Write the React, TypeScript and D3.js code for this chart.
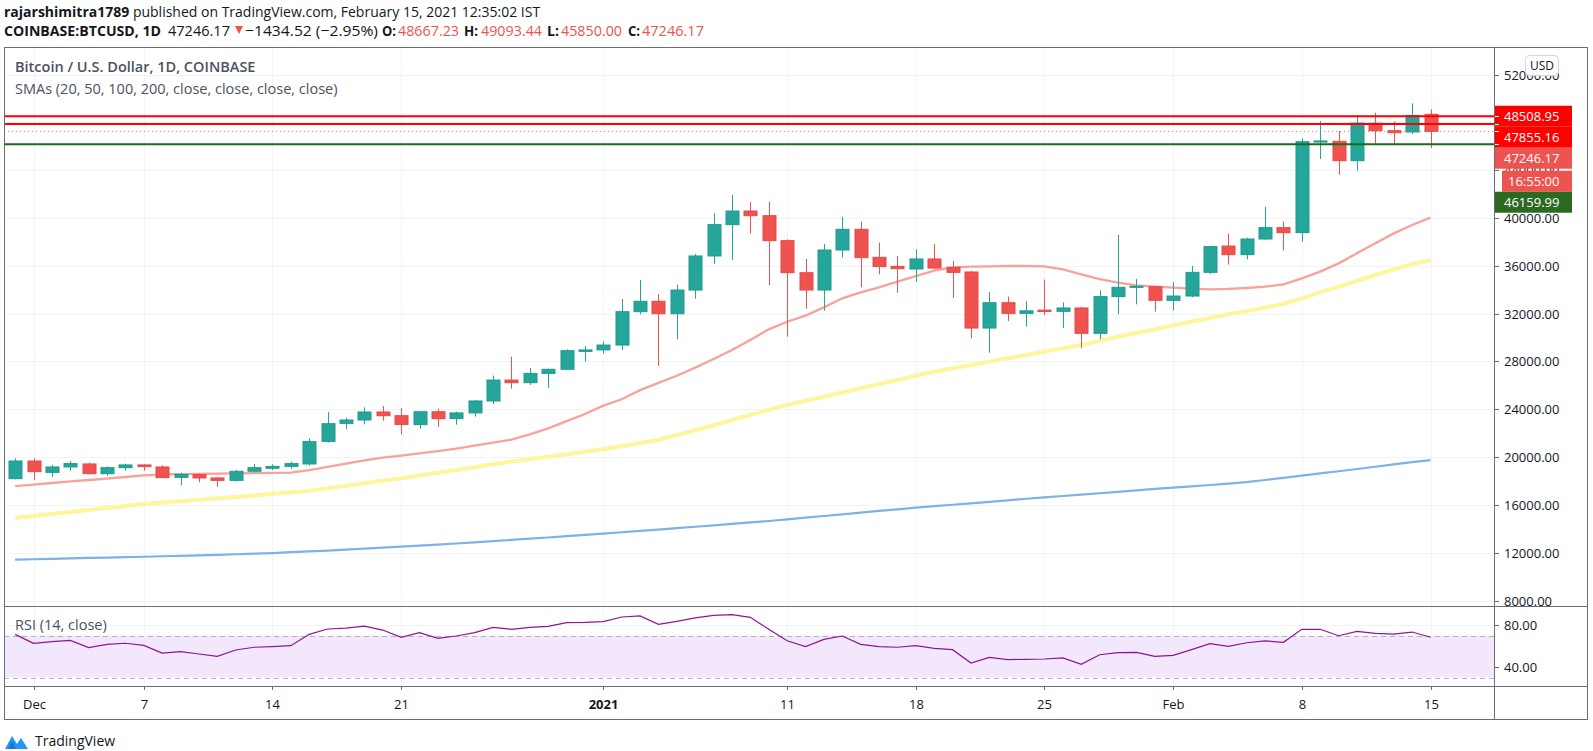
import React from 'react';
import * as d3 from 'd3';

const W = 1593;
const H = 751;

// ---------- data ----------
const firstDay = new Date(Date.UTC(2020, 10, 30));
const dates: Date[] = d3.utcDay.range(firstDay, new Date(Date.UTC(2021, 1, 16)));

const opens = [
  18190, 19670, 18720, 19170, 19420, 18610, 19110, 19340, 19170, 18300,
  18530, 18250, 18050, 18810, 19060, 19220, 19420, 21310, 22820, 23100,
  23770, 23460, 22710, 23790, 23210, 23690, 24690, 26440, 26220, 27000,
  27340, 28840, 28960, 29370, 32160, 33030, 31990, 33970, 36820, 39440,
  40580, 40190, 38100, 35420, 33970, 37320, 39050, 36710, 35950, 35730,
  36570, 35870, 35480, 30790, 32910, 32020, 32290, 32190, 32470, 30350,
  33420, 34200, 34250, 33110, 33470, 35450, 37650, 36930, 38240, 39190,
  38770, 46350, 46410, 44790, 47920, 47300, 47190, 48667.23,
];
const highs = [
  19890, 19890, 19340, 19670, 19530, 19220, 19450, 19420, 19310, 18690,
  18610, 18330, 18920, 19420, 19390, 19610, 21570, 23760, 23290, 24160,
  24270, 24100, 23800, 24050, 23800, 24770, 26810, 28400, 27450, 27390,
  29010, 29290, 29680, 33220, 34810, 33640, 34420, 36980, 40390, 41920,
  41330, 41360, 38210, 36570, 37820, 40080, 39690, 37930, 36820, 37380,
  37820, 36400, 35590, 33810, 33420, 33040, 34840, 32940, 32580, 33950,
  38600, 34890, 34310, 34640, 35980, 37680, 38690, 38350, 40920, 39690,
  46660, 48110, 47270, 48610, 48810, 48080, 49590, 49093.44,
];
const lows = [
  18140, 18080, 18330, 18860, 18530, 18440, 18860, 18860, 18220, 17630,
  17890, 17520, 17940, 18720, 18920, 19030, 19280, 21220, 22320, 22740,
  23040, 21900, 22370, 22540, 22710, 23380, 24440, 25720, 26030, 25780,
  27280, 27980, 28650, 28960, 31940, 27620, 29850, 33250, 36150, 36480,
  38710, 34360, 30070, 32410, 32250, 36680, 34200, 35280, 33750, 34670,
  35700, 33300, 29930, 28730, 31380, 30910, 31870, 30800, 29090, 29850,
  31940, 32770, 32160, 32270, 33360, 35310, 36090, 36540, 38160, 37290,
  37990, 44930, 43620, 43960, 46210, 46210, 47020, 45850,
];
const closes = [
  19670, 18780, 19170, 19450, 18610, 19110, 19340, 19200, 18280, 18550,
  18250, 18050, 18810, 19110, 19220, 19450, 21290, 22790, 23100, 23770,
  23460, 22730, 23790, 23210, 23690, 24690, 26440, 26220, 27000, 27340,
  28900, 28960, 29370, 32160, 33030, 31990, 33970, 36820, 39440, 40580,
  40190, 38100, 35420, 33970, 37320, 39050, 36680, 35930, 35760, 36570,
  35810, 35450, 30790, 32910, 32020, 32230, 32170, 32470, 30350, 33420,
  34200, 34280, 33110, 33470, 35450, 37600, 36930, 38240, 39190, 38770,
  46380, 46440, 44790, 47940, 47300, 47130, 48580, 47246.17,
];

const sma20 = [
  17570, 17700, 17830, 17960, 18080, 18200, 18330, 18470, 18540, 18570,
  18600, 18620, 18640, 18660, 18680, 18700, 18900, 19170, 19450, 19720,
  19950, 20110, 20300, 20500, 20700, 20950, 21200, 21450, 21900, 22400,
  23000, 23600, 24300, 24830, 25600, 26200, 26800, 27480, 28200, 28950,
  29800, 30680, 31320, 31830, 32520, 33280, 33780, 34200, 34670, 35140,
  35590, 35870, 35930, 35950, 35980, 35980, 35950, 35700, 35280, 34890,
  34590, 34360, 34250, 34170, 34090, 34030, 34060, 34140, 34250, 34450,
  34950, 35510, 36200, 37040, 37880, 38710, 39410, 40030,
];
const sma50 = [
  14900, 15070, 15230, 15400, 15570, 15740, 15900, 16070, 16190, 16310,
  16420, 16540, 16660, 16790, 16920, 17040, 17170, 17380, 17590, 17800,
  18010, 18220, 18450, 18680, 18920, 19150, 19390, 19620, 19820, 20030,
  20230, 20440, 20650, 20910, 21170, 21430, 21830, 22240, 22660, 23090,
  23520, 23950, 24360, 24710, 25050, 25400, 25750, 26100, 26450, 26800,
  27140, 27420, 27700, 27980, 28260, 28540, 28820, 29090, 29370, 29720,
  30070, 30370, 30680, 31000, 31320, 31630, 31940, 32220, 32500, 32800,
  33280, 33770, 34250, 34740, 35230, 35690, 36150, 36480,
];
const sma200 = [
  11420, 11450, 11490, 11520, 11560, 11590, 11630, 11660, 11700, 11740,
  11780, 11820, 11870, 11920, 11970, 12040, 12110, 12180, 12260, 12340,
  12420, 12500, 12590, 12680, 12770, 12870, 12970, 13070, 13170, 13270,
  13380, 13490, 13600, 13710, 13820, 13930, 14050, 14170, 14290, 14410,
  14530, 14650, 14790, 14930, 15070, 15210, 15350, 15490, 15630, 15770,
  15890, 16010, 16130, 16250, 16380, 16510, 16630, 16740, 16850, 16970,
  17090, 17210, 17330, 17440, 17550, 17660, 17780, 17900, 18080, 18260,
  18440, 18630, 18810, 19000, 19190, 19380, 19570, 19750,
];
const rsi = [
  71.1, 62.6, 64.1, 65.4, 58.4, 61.6, 62.6, 60.6, 53.3, 54.6,
  52.4, 50.2, 56.2, 58.8, 59.4, 60.3, 71.1, 76.2, 77.1, 79.0,
  75.2, 68.3, 72.7, 67.3, 69.5, 72.7, 77.8, 75.9, 77.8, 78.7,
  82.2, 82.5, 83.2, 87.6, 88.6, 80.6, 83.5, 86.7, 89.2, 89.9,
  87.3, 75.9, 65.0, 59.4, 66.3, 69.5, 61.6, 59.4, 58.8, 60.3,
  57.8, 56.5, 43.8, 49.2, 47.0, 47.3, 47.6, 48.6, 42.5, 51.7,
  53.6, 53.9, 50.2, 51.1, 56.5, 62.2, 59.7, 63.1, 64.8, 63.5,
  75.9, 75.9, 69.8, 74.0, 72.1, 71.4, 73.3, 68.3,
];

const timeTickDates = [
  Date.UTC(2020, 11, 1), Date.UTC(2020, 11, 7), Date.UTC(2020, 11, 14), Date.UTC(2020, 11, 21),
  Date.UTC(2021, 0, 1), Date.UTC(2021, 0, 11), Date.UTC(2021, 0, 18), Date.UTC(2021, 0, 25),
  Date.UTC(2021, 1, 1), Date.UTC(2021, 1, 8), Date.UTC(2021, 1, 15),
];
const timeTickLabels = ['Dec', '7', '14', '21', '2021', '11', '18', '25', 'Feb', '8', '15'];
const boldTimeLabels = ['2021'];

const priceTicks = [52000, 48000, 44000, 40000, 36000, 32000, 28000, 24000, 20000, 16000, 12000, 8000];
const rsiTicks = [80, 40];
const rsiBand = [70, 30];

const levelPrices = [48508.95, 47855.16, 46159.99];
const levelColors = ['#ff0000', '#ff0000', '#1a6b1a'];
const levelLabelColors = ['#ff0000', '#ff0000', '#2b6a21'];
const lastPrice = 47246.17;
const countdown = '16:55:00';

// header pieces: [text, x, width, bold, red]
const headerParts: [string, number, number, boolean, boolean][] = [
  ['COINBASE:BTCUSD, 1D', 4, 157, true, false],
  ['47246.17', 168, 62, false, false],
  ['−1434.52 (−2.95%)', 245, 133, false, false],
  ['O:', 382, 14, true, false],
  ['48667.23', 398, 61, false, true],
  ['H:', 464, 14, true, false],
  ['49093.44', 481, 61, false, true],
  ['L:', 547, 12, true, false],
  ['45850.00', 561, 61, false, true],
  ['C:', 628, 12, true, false],
  ['47246.17', 642, 62, false, true],
];

// ---------- layout ----------
const FL = 4, FR = 1588, FT = 47, FB = 720;
const AX = 1494; // price axis separator
const PB = 606; // price pane bottom
const RB = 686; // rsi pane bottom

const FONT = "'Open Sans', 'Noto Sans', sans-serif";
const TXT = '#131722';
const GRID = '#f0f3fa';
const BORDER = '#6a6d78';
const UP = '#26a69a';
const DOWN = '#ef5350';

const x = d3.scaleUtc()
  .domain([new Date(Date.UTC(2020, 11, 1)), new Date(Date.UTC(2021, 1, 15))])
  .range([33.5, 1430.5]);
const y = d3.scaleLinear().domain([8000, 52000]).range([600.5, 74.5]);
const yr = d3.scaleLinear().domain([40, 80]).range([667, 625]);

const fmt = d3.format('.2f');

export default function App() {
  const cx = (i: number) => Math.round(x(dates[i])) + 0.5;

  const lineGen = (vals: number[]) =>
    d3.line<number>().x((_, i) => x(dates[i])).y((v) => y(v))(vals) || '';
  const rsiLine = d3.line<number>().x((_, i) => x(dates[i])).y((v) => yr(v))(rsi) || '';

  // price label stacking
  const LH = 21;
  type Lab = { price: number; text: string; color: string; extra?: boolean };
  const labs: Lab[] = [
    { price: levelPrices[0], text: fmt(levelPrices[0]), color: levelLabelColors[0] },
    { price: levelPrices[1], text: fmt(levelPrices[1]), color: levelLabelColors[1] },
    { price: lastPrice, text: fmt(lastPrice), color: DOWN, extra: true },
    { price: levelPrices[2], text: fmt(levelPrices[2]), color: levelLabelColors[2] },
  ].sort((a, b) => b.price - a.price);
  let prevBottom = -Infinity;
  const placed = labs.map((l) => {
    let top = y(l.price) - LH / 2;
    if (top < prevBottom) top = prevBottom;
    const bottom = top + LH + (l.extra ? LH + 2 : 0);
    prevBottom = bottom;
    return { ...l, top };
  });
  const covered = (py: number) =>
    placed.some((l) => py > l.top + 2 && py < l.top + LH - 2);

  return (
    <svg width={W} height={H} style={{ display: 'block', position: 'absolute', left: 0, top: 0, background: '#fff' }}
      fontFamily={FONT}>
      <defs>
        <clipPath id="pane">
          <rect x={FL} y={FT} width={AX - FL} height={PB - FT} />
        </clipPath>
        <clipPath id="rsipane">
          <rect x={FL} y={PB} width={AX - FL} height={RB - PB} />
        </clipPath>
      </defs>
      <rect x={0} y={0} width={W} height={H} fill="#fff" />

      {/* header */}
      <text x={4} y={17} fontSize={14} fill={TXT}>
        <tspan fontWeight={700}>rajarshimitra1789</tspan>
        <tspan> published on TradingView.com, February 15, 2021 12:35:02 IST</tspan>
      </text>
      {headerParts.map(([t, hx, w, b, red], i) => (
        <text key={'hp' + i} x={hx} y={35.5} fontSize={15} fontWeight={b ? 700 : 400}
          textLength={w} lengthAdjust="spacingAndGlyphs"
          fill={red ? DOWN : TXT}>{t}</text>
      ))}
      <path d="M235 26 L243 26 L239 34 Z" fill={DOWN} />

      {/* grid */}
      {timeTickDates.map((t, i) => (
        <line key={'vg' + i} x1={Math.round(x(new Date(t))) + 0.5} x2={Math.round(x(new Date(t))) + 0.5}
          y1={FT} y2={RB} stroke={GRID} strokeWidth={1} />
      ))}
      {priceTicks.map((p) => (
        <line key={'hg' + p} x1={FL} x2={AX} y1={Math.round(y(p)) + 0.5} y2={Math.round(y(p)) + 0.5}
          stroke={GRID} strokeWidth={1} />
      ))}
      {rsiTicks.map((r) => (
        <line key={'rg' + r} x1={FL} x2={AX} y1={Math.round(yr(r)) + 0.5} y2={Math.round(yr(r)) + 0.5}
          stroke={GRID} strokeWidth={1} />
      ))}

      {/* legends */}
      <text x={15} y={72} fontSize={14.5} fontWeight={600} fill="#4c525e">Bitcoin / U.S. Dollar, 1D, COINBASE</text>
      <text x={15} y={93.5} fontSize={14.5} fill="#4c525e">SMAs (20, 50, 100, 200, close, close, close, close)</text>

      {/* price pane */}
      <g clipPath="url(#pane)">
        <path d={lineGen(sma200)} fill="none" stroke="#7eb1e8" strokeWidth={2.2} />
        <path d={lineGen(sma50)} fill="none" stroke="#fff59a" strokeWidth={4} />
        <path d={lineGen(sma20)} fill="none" stroke="#f7a29a" strokeWidth={2.3} />

        {dates.map((d, i) => {
          const o = opens[i], c = closes[i];
          const up = c >= o;
          const col = up ? UP : DOWN;
          const xc = cx(i);
          const yt = y(Math.max(o, c));
          const yb = y(Math.min(o, c));
          return (
            <g key={'c' + i}>
              <line x1={xc} x2={xc} y1={y(highs[i])} y2={y(lows[i])} stroke={col} strokeWidth={1} />
              <rect x={xc - 6.5} y={yt} width={13} height={Math.max(1, yb - yt)} fill={col}
                stroke={up ? '#1f9a8e' : '#e84848'} strokeWidth={1} />
            </g>
          );
        })}

        {levelPrices.map((p, i) => (
          <line key={'lv' + i} x1={FL} x2={AX} y1={y(p)} y2={y(p)} stroke={levelColors[i]} strokeWidth={2} />
        ))}
        <line x1={FL} x2={AX} y1={Math.round(y(lastPrice)) + 0.5} y2={Math.round(y(lastPrice)) + 0.5}
          stroke={DOWN} strokeWidth={1} strokeDasharray="1 3" opacity={0.8} />
      </g>

      {/* RSI pane */}
      <g clipPath="url(#rsipane)">
        <rect x={FL} y={yr(rsiBand[0])} width={AX - FL} height={yr(rsiBand[1]) - yr(rsiBand[0])} fill="#f3e7fc" />
        {rsiBand.map((b) => (
          <line key={'rb' + b} x1={FL} x2={AX} y1={Math.round(yr(b)) + 0.5} y2={Math.round(yr(b)) + 0.5}
            stroke="#b2b5be" strokeWidth={1} strokeDasharray="5 4" />
        ))}
        <path d={rsiLine} fill="none" stroke="#8e1599" strokeWidth={1.2} />
      </g>
      <text x={15} y={630} fontSize={14.5} fill="#4c525e">RSI (14, close)</text>

      {/* price axis */}
      {priceTicks.map((p) => (
        <g key={'pt' + p}>
          <line x1={AX} x2={AX + 5} y1={Math.round(y(p)) + 0.5} y2={Math.round(y(p)) + 0.5} stroke={BORDER} />
          {!covered(y(p)) && (
            <text x={AX + 10} y={y(p)} dominantBaseline="central" fontSize={13} fill={TXT}>{fmt(p)}</text>
          )}
        </g>
      ))}
      {rsiTicks.map((r) => (
        <g key={'rt' + r}>
          <line x1={AX} x2={AX + 5} y1={Math.round(yr(r)) + 0.5} y2={Math.round(yr(r)) + 0.5} stroke={BORDER} />
          <text x={AX + 10} y={yr(r)} dominantBaseline="central" fontSize={13} fill={TXT}>{fmt(r)}</text>
        </g>
      ))}

      {/* price labels */}
      {placed.map((l, i) => (
        <g key={'pl' + i}>
          <rect x={AX} y={l.top} width={78} height={LH} fill={l.color} />
          <line x1={AX} x2={AX + 5} y1={Math.round(y(l.price)) + 0.5} y2={Math.round(y(l.price)) + 0.5} stroke="#fff" />
          <text x={AX + 10} y={l.top + LH / 2} dominantBaseline="central" fontSize={13} fill="#fff">{l.text}</text>
          {l.extra && (
            <g>
              <rect x={AX + 8} y={l.top + LH + 2} width={70} height={LH} fill={l.color} />
              <text x={AX + 14} y={l.top + LH + 2 + LH / 2} dominantBaseline="central" fontSize={13} fill="#fff">{countdown}</text>
            </g>
          )}
        </g>
      ))}

      {/* USD button */}
      <rect x={1525.5} y={55.5} width={33} height={20} rx={4} fill="#fff" stroke="#d1d4dc" />
      <text x={1542} y={65.5} textAnchor="middle" dominantBaseline="central" fontSize={12} fill={TXT}>USD</text>

      {/* time axis */}
      {timeTickDates.map((t, i) => {
        const xx = Math.round(x(new Date(t))) + 0.5;
        return (
          <g key={'tt' + i}>
            <line x1={xx} x2={xx} y1={RB} y2={RB + 4} stroke={BORDER} />
            <text x={xx} y={704} textAnchor="middle" dominantBaseline="central" fontSize={13}
              fontWeight={boldTimeLabels.includes(timeTickLabels[i]) ? 700 : 400} fill={TXT}>
              {timeTickLabels[i]}
            </text>
          </g>
        );
      })}

      {/* frame */}
      <rect x={FL + 0.5} y={FT + 0.5} width={FR - FL - 1} height={FB - FT - 1} fill="none" stroke={BORDER} />
      <line x1={AX + 0.5} x2={AX + 0.5} y1={FT} y2={FB} stroke={BORDER} />
      <line x1={FL} x2={FR} y1={PB + 0.5} y2={PB + 0.5} stroke={BORDER} />
      <line x1={FL} x2={FR} y1={RB + 0.5} y2={RB + 0.5} stroke={BORDER} />

      {/* TradingView logo */}
      <g transform="translate(5,733)">
        <path d="M0 16 L7 3 L12 11 L16 5 L23 16 Z" fill="#2196f3" />
        <path d="M3 16 L7 8 L11 16 Z" fill="#1976d2" />
      </g>
      <text x={35} y={746} fontSize={14} fill="#131722">TradingView</text>
    </svg>
  );
}
